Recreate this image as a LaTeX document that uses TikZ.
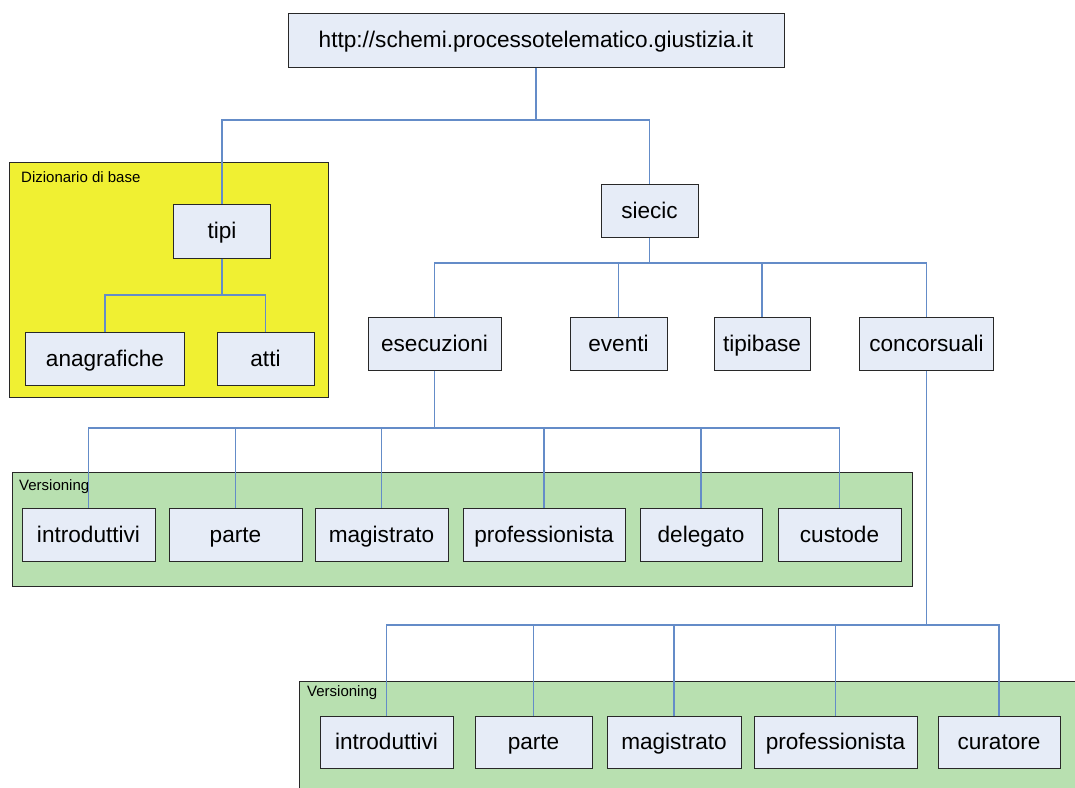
\documentclass[tikz,border=0pt]{standalone}
\usepackage{fontspec}
\setmainfont{Liberation Sans}
\definecolor{boxfill}{RGB}{230,236,247}
\definecolor{boxline}{RGB}{40,40,40}
\definecolor{connline}{RGB}{100,140,200}
\definecolor{yellowarea}{RGB}{240,240,50}
\definecolor{greenarea}{RGB}{184,224,176}
\begin{document}
\begin{tikzpicture}[x=1pt,y=-1pt,
  item/.style={draw=boxline,line width=1pt,fill=boxfill,rectangle,inner sep=0pt,
    minimum height=53pt,text height=20pt,text depth=5pt,
    font=\fontsize{22.6}{26}\selectfont},
  area/.style={draw=boxline,line width=1pt},
  arealabel/.style={anchor=west,inner sep=0pt,font=\fontsize{15}{18}\selectfont},
  conn/.style={draw=connline,line width=1.1pt}
]
\useasboundingbox (0,0) rectangle (1075,787);
% background areas
\path[area,fill=yellowarea] (9,162) rectangle (328,397);
\path[area,fill=greenarea] (12,472) rectangle (912,586);
\path[area,fill=greenarea] (299,681) rectangle (1080,792);
\node[arealabel] (lbldict) at (21,177) {Dizionario di base};
\node[arealabel] (lblver1) at (19,487) {Versioning};
\node[arealabel] (lblver2) at (307,693) {Versioning};
% nodes
\node[item,minimum width=496pt,minimum height=54pt] (root) at (536,40) {http://schemi.processotelematico.giustizia.it};
\node[item,minimum width=97pt,minimum height=54pt] (tipi) at (222,231) {tipi};
\node[item,minimum width=159pt] (anag) at (105,358.5) {anagrafiche};
\node[item,minimum width=97pt] (atti) at (265.5,358.5) {atti};
\node[item,minimum width=97pt] (siecic) at (649.5,210.5) {siecic};
\node[item,minimum width=133pt] (esec) at (434.5,343.5) {esecuzioni};
\node[item,minimum width=97pt] (eventi) at (618.5,343.5) {eventi};
\node[item,minimum width=96pt] (tipibase) at (762,343.5) {tipibase};
\node[item,minimum width=134pt] (conc) at (926.5,343.5) {concorsuali};
% row 1
\node[item,minimum width=133pt] (aintro) at (88.5,534.5) {introduttivi};
\node[item,minimum width=133pt] (aparte) at (235.5,534.5) {parte};
\node[item,minimum width=133pt] (amag) at (381.5,534.5) {magistrato};
\node[item,minimum width=162pt] (aprof) at (544,534.5) {professionista};
\node[item,minimum width=122pt] (adel) at (701,534.5) {delegato};
\node[item,minimum width=123pt] (acust) at (839.5,534.5) {custode};
% row 2
\node[item,minimum width=133pt,minimum height=52pt] (bintro) at (386.5,742) {introduttivi};
\node[item,minimum width=117pt,minimum height=52pt] (bparte) at (533.5,742) {parte};
\node[item,minimum width=134pt,minimum height=52pt] (bmag) at (674,742) {magistrato};
\node[item,minimum width=163pt,minimum height=52pt] (bprof) at (835.5,742) {professionista};
\node[item,minimum width=122pt,minimum height=52pt] (bcur) at (999,742) {curatore};
% junctions
\coordinate (j0) at (536,120);
\coordinate (j1) at (222,295);
\coordinate (j2) at (649.5,263);
\coordinate (j3) at (434.5,428);
\coordinate (j4) at (926.5,625);
% connectors
\draw[conn] (root.south) -- (j0);
\draw[conn] (j0) -| (tipi.north);
\draw[conn] (j0) -| (siecic.north);
\draw[conn] (tipi.south) -- (j1);
\draw[conn] (j1) -| (anag.north);
\draw[conn] (j1) -| (atti.north);
\draw[conn] (siecic.south) -- (j2);
\draw[conn] (j2) -| (esec.north);
\draw[conn] (j2) -| (eventi.north);
\draw[conn] (j2) -| (tipibase.north);
\draw[conn] (j2) -| (conc.north);
\draw[conn] (esec.south) -- (j3);
\foreach \n in {aintro,aparte,amag,aprof,adel,acust}
  \draw[conn] (j3) -| (\n.north);
\draw[conn] (conc.south) -- (j4);
\foreach \n in {bintro,bparte,bmag,bprof,bcur}
  \draw[conn] (j4) -| (\n.north);
\end{tikzpicture}
\end{document}
